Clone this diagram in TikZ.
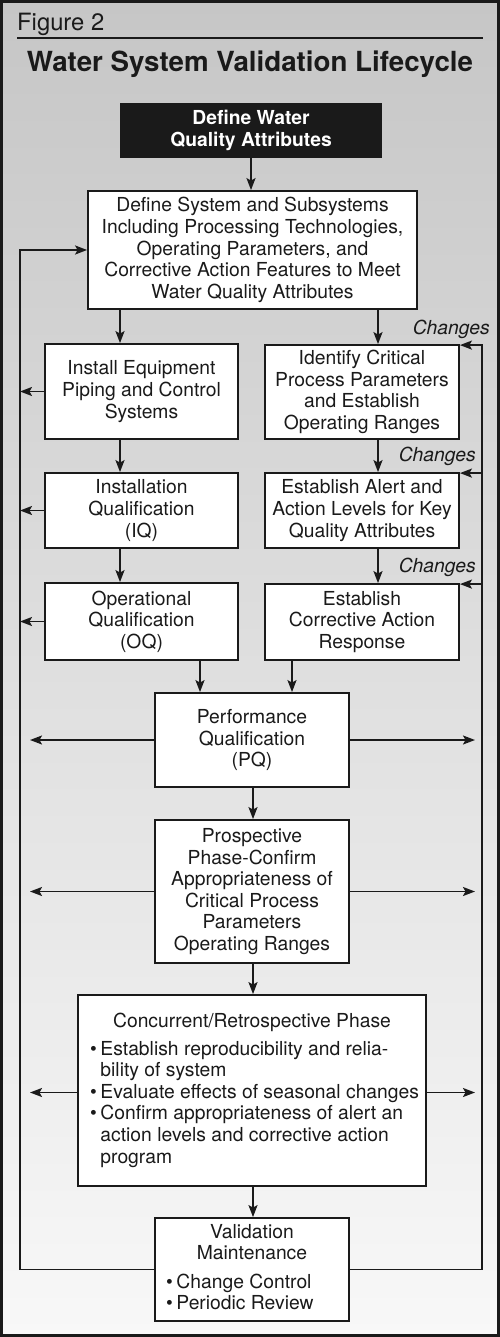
\documentclass[tikz,border=0pt]{standalone}
\usepackage{fontspec}
\setmainfont{TeX Gyre Heros}
\usetikzlibrary{arrows.meta}
\definecolor{ink}{HTML}{1A1A1A}
\definecolor{bgtop}{HTML}{C6C6C6}
\definecolor{bgbot}{HTML}{F8F8F8}
\newcommand{\bfs}{\fontsize{19.3}{21.6}\selectfont}
\begin{document}
\begin{tikzpicture}[x=1pt,y=-1pt,
  box/.style={draw=ink, fill=white, line width=1.8pt, inner sep=0pt, align=center,
    font=\bfs, text=ink},
  darkbox/.style={box, fill=ink, text=white, font=\bfs\bfseries},
  arr/.style={draw=ink, line width=1.8pt, -{Stealth[length=12pt,width=9pt,inset=2.5pt]}},
  chg/.style={font=\bfs\itshape, text=ink, anchor=base east, inner sep=0pt},
  txt/.style={font=\bfs, text=ink, inner sep=0pt},
]
\useasboundingbox (0,0) rectangle (500,1337);
\shade[top color=bgtop, bottom color=bgbot] (0,0) rectangle (500,1337);
\draw[ink, line width=2.6pt] (1.3,1.3) rectangle (498.7,1335.7);

% header
\node[txt, font=\fontsize{23.8}{27}\selectfont, anchor=base west] (fig) at (17,31) {Figure 2};
\coordinate (ulA) at (17,38);
\coordinate (ulB) at (483,38);
\draw[ink, line width=1.4pt] (ulA) -- (ulB);
\node[txt, font=\fontsize{27.7}{30}\selectfont\bfseries, anchor=base] (title) at (250,71.5) {Water System Validation Lifecycle};

% named columns
\coordinate (xL) at (120,0);
\coordinate (xR) at (378,0);
\coordinate (xPL) at (200,0);
\coordinate (xPR) at (292,0);
\coordinate (xC) at (253,0);
\coordinate (lineL) at (20,0);
\coordinate (lineR) at (482,0);
\coordinate (tipL) at (30,0);
\coordinate (tipR) at (475,0);

% boxes
\node[darkbox, minimum width=260pt, minimum height=53pt] (def) at (251,130.5) {Define Water\\Quality Attributes};
\node[box, minimum width=329pt, minimum height=118pt] (sys) at (252.5,250) {Define System and Subsystems\\Including Processing Technologies,\\Operating Parameters, and\\Corrective Action Features to Meet\\Water Quality Attributes};
\node[box, minimum width=193pt, minimum height=95pt] (inst) at (141.5,391.5) {Install Equipment\\Piping and Control\\Systems};
\node[box, minimum width=194pt, minimum height=94pt] (iden) at (362,392) {Identify Critical\\Process Parameters\\and Establish\\Operating Ranges};
\node[box, minimum width=193pt, minimum height=75pt] (iq) at (141.5,510.5) {Installation\\Qualification\\(IQ)};
\node[box, minimum width=194pt, minimum height=75pt] (alert) at (362,510.5) {Establish Alert and\\Action Levels for Key\\Quality Attributes};
\node[box, minimum width=193pt, minimum height=77pt] (oq) at (141.5,621.5) {Operational\\Qualification\\(OQ)};
\node[box, minimum width=194pt, minimum height=76pt] (corr) at (362,622) {Establish\\Corrective Action\\Response};
\node[box, minimum width=194pt, minimum height=94pt] (pq) at (252,740) {Performance\\Qualification\\(PQ)};
\node[box, minimum width=194pt, minimum height=143pt] (pros) at (252,891.5) {Prospective\\Phase-Confirm\\Appropriateness of\\Critical Process\\Parameters\\Operating Ranges};
\node[box, minimum width=348pt, minimum height=191pt] (conc) at (252,1090.5) {};
\node[box, minimum width=194pt, minimum height=103pt] (val) at (252,1269.5) {};

% inner texts
\node[txt, anchor=base] (concH) at (252,1027) {Concurrent/Retrospective Phase};
\node[txt, anchor=base west] (concL) at (90,1055) {\begin{tabular}[t]{@{}l@{\hspace{3.5pt}}l@{}}
\textbullet & Establish reproducibility and relia-\\
 & bility of system\\
\textbullet & Evaluate effects of seasonal changes\\
\textbullet & Confirm appropriateness of alert an\\
 & action levels and corrective action\\
 & program
\end{tabular}};
\node[txt, anchor=base] (valH) at (252,1238) {\begin{tabular}[t]{@{}c@{}}Validation\\Maintenance\end{tabular}};
\node[txt, anchor=base west] (valL) at (166,1288) {\begin{tabular}[t]{@{}l@{\hspace{3.5pt}}l@{}}
\textbullet & Change Control\\
\textbullet & Periodic Review
\end{tabular}};

% labels
\node[chg] (c1) at (490,334) {Changes};
\node[chg] (c2) at (476,461) {Changes};
\node[chg] (c3) at (476,572) {Changes};

% main flow
\draw[arr] (def.south) -- (def.south |- sys.north);
\draw[arr] (sys.south -| xL) -- (inst.north -| xL);
\draw[arr] (sys.south -| xR) -- (iden.north -| xR);
\draw[arr] (inst.south -| xL) -- (iq.north -| xL);
\draw[arr] (iq.south -| xL) -- (oq.north -| xL);
\draw[arr] (iden.south -| xR) -- (alert.north -| xR);
\draw[arr] (alert.south -| xR) -- (corr.north -| xR);
\draw[arr] (oq.south -| xPL) -- (pq.north -| xPL);
\draw[arr] (corr.south -| xPR) -- (pq.north -| xPR);
\draw[arr] (pq.south -| xC) -- (pros.north -| xC);
\draw[arr] (pros.south -| xC) -- (conc.north -| xC);
\draw[arr] (conc.south -| xC) -- (val.north -| xC);

% left side arrows into loop
\draw[arr] (inst.west) -- (inst.west -| lineL);
\draw[arr] (iq.west) -- (iq.west -| lineL);
\draw[arr] (oq.west) -- (oq.west -| lineL);

% horizontal outgoing arrows
\draw[arr] (pq.west) -- (pq.west -| tipL);
\draw[arr] (pq.east) -- (pq.east -| tipR);
\draw[arr] (pros.west) -- (pros.west -| tipL);
\draw[arr] (pros.east) -- (pros.east -| tipR);
\draw[arr] ([yshift=-2pt]conc.west) -- ([yshift=-2pt]conc.west -| tipL);
\draw[arr] ([yshift=-2pt]conc.east) -- ([yshift=-2pt]conc.east -| tipR);

% feedback loops
\draw[arr] (val.west) -| (sys.west -| lineL) -- (sys.west);
\draw[arr] (val.east) -| ([yshift=-1pt]iden.north east -| lineR) -- ([yshift=-1pt]iden.north east);
\draw[arr] ([yshift=-1pt]alert.north east -| lineR) -- ([yshift=-1pt]alert.north east);
\draw[arr] ([yshift=-1pt]corr.north east -| lineR) -- ([yshift=-1pt]corr.north east);
\end{tikzpicture}
\end{document}
